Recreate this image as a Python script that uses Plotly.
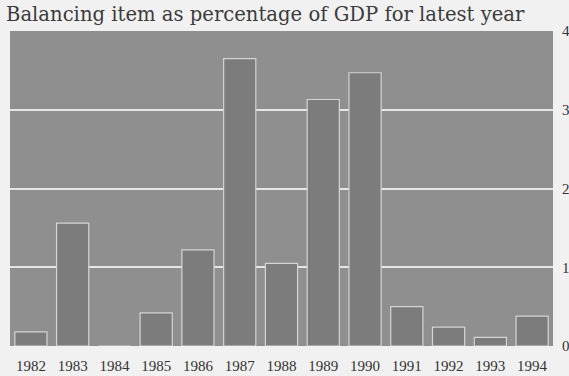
import plotly.graph_objects as go

years = ["1982", "1983", "1984", "1985", "1986", "1987", "1988",
         "1989", "1990", "1991", "1992", "1993", "1994"]
balancing_pct = [0.18, 1.56, 0.0, 0.42, 1.22, 3.65, 1.05,
                 3.13, 3.47, 0.50, 0.24, 0.11, 0.38]
y_ticks = [0, 1, 2, 3, 4]

W, H = 569, 376
plot_left, plot_right = 10, 553
plot_top, plot_bottom = 31, 346

fig = go.Figure(
    go.Bar(
        x=years,
        y=balancing_pct,
        width=0.77,
        marker=dict(color="#7c7c7c", line=dict(color="#d4d4d4", width=1.2)),
        hoverinfo="x+y",
    )
)

fig.update_layout(
    width=W,
    height=H,
    margin=dict(l=plot_left, r=W - plot_right, t=plot_top, b=H - plot_bottom),
    paper_bgcolor="#f1f1f1",
    plot_bgcolor="#8f8f8f",
    showlegend=False,
    bargap=0.23,
    title=dict(
        text="Balancing item as percentage of GDP for latest year",
        x=6 / W,
        xanchor="left",
        y=1 - 14 / H,
        yanchor="middle",
        font=dict(family="DejaVu Serif", size=19.6, color="#3c3c3c"),
    ),
    xaxis=dict(
        type="category",
        showgrid=False,
        showline=False,
        ticks="",
        ticklabelstandoff=9,
        tickfont=dict(family="Liberation Serif", size=15, color="#333333"),
        automargin=False,
    ),
    yaxis=dict(
        range=[0, 4],
        tickvals=y_ticks,
        side="right",
        showgrid=True,
        gridcolor="#e6e6e6",
        gridwidth=2,
        zeroline=False,
        showline=False,
        ticks="",
        ticklabelstandoff=8,
        tickfont=dict(family="Liberation Serif", size=15, color="#333333"),
        automargin=False,
    ),
)

fig.write_html("out.html")
